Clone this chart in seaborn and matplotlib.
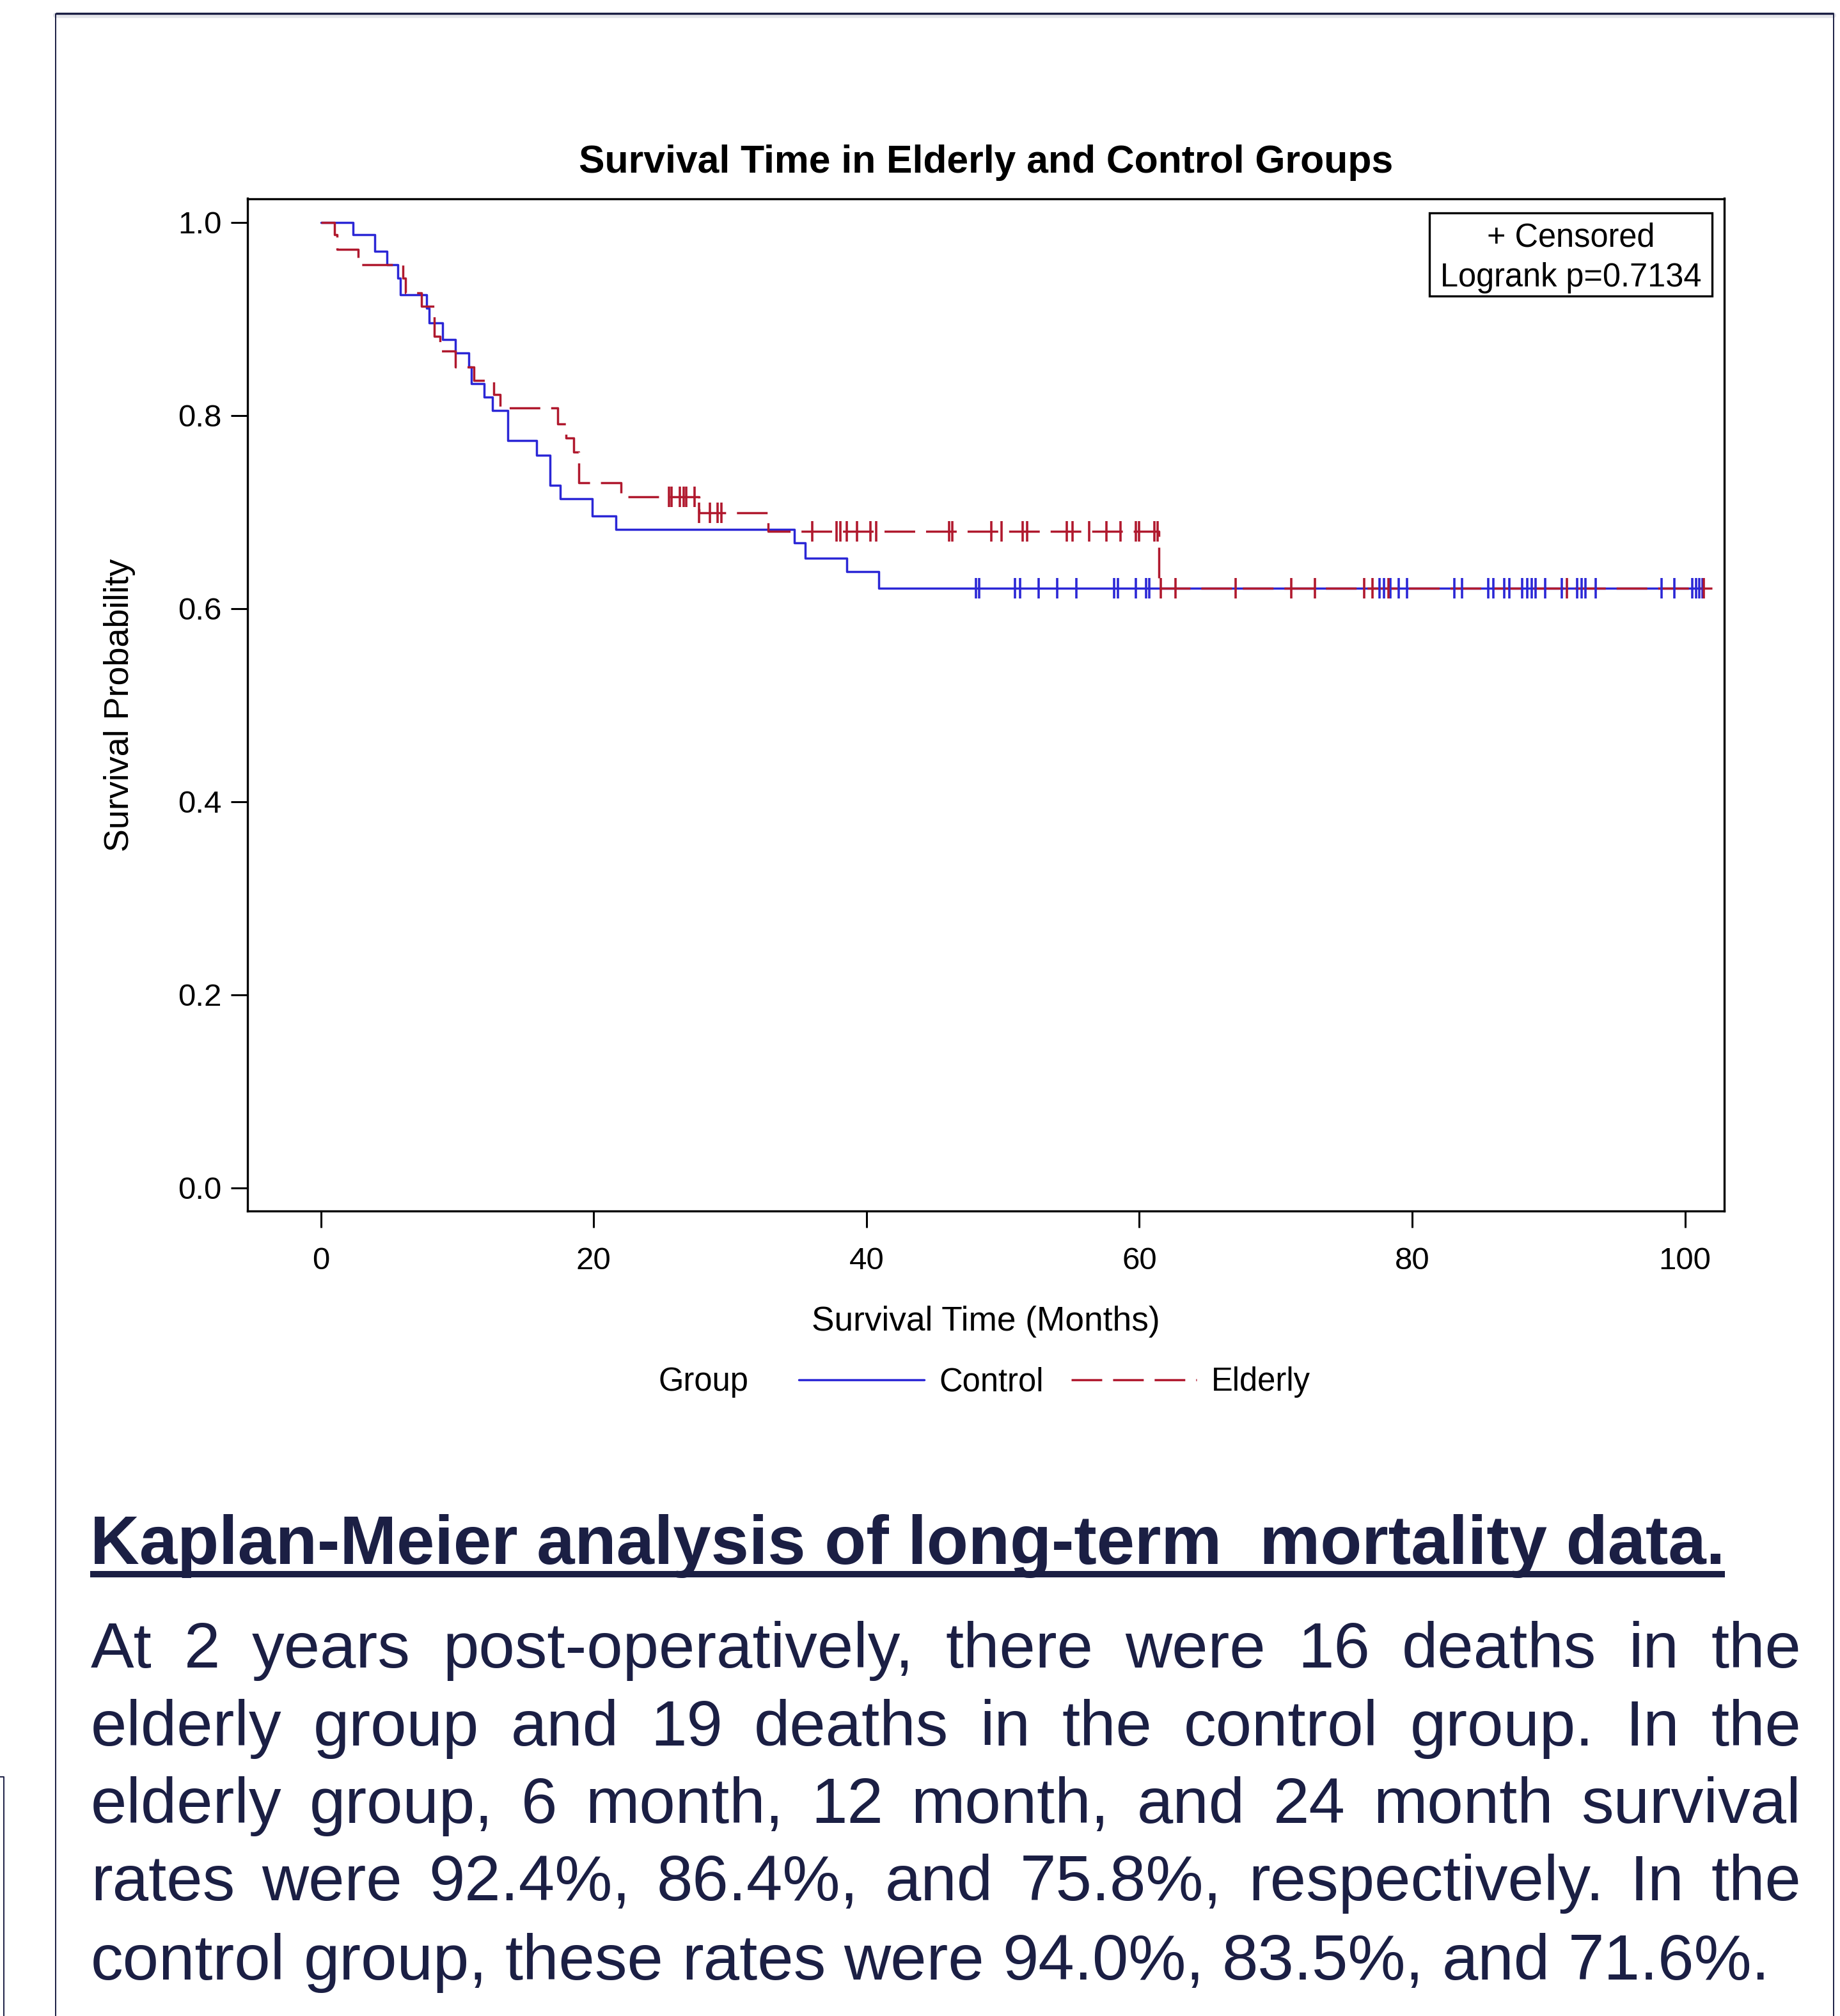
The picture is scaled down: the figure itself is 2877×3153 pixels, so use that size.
import matplotlib
matplotlib.use("Agg")
import matplotlib.pyplot as plt
from matplotlib import font_manager
from matplotlib.lines import Line2D
from matplotlib.patches import Rectangle
import numpy as np
import pandas as pd
import seaborn as sns

W, H = 2877, 3153

# ---- Kaplan-Meier steps (months, survival) ----
control_times = [0, 2.37, 3.93, 4.83, 5.65, 5.82, 7.74, 7.93, 8.9, 9.86, 10.84, 11.01,
                 11.99, 12.58, 13.71, 15.82, 16.81, 17.54, 19.88, 21.62, 34.72, 35.51,
                 38.57, 40.9]
control_surv = [1.0, 0.987, 0.970, 0.956, 0.942, 0.925, 0.911, 0.896, 0.879, 0.865, 0.850,
                0.833, 0.819, 0.805, 0.774, 0.759, 0.728, 0.714, 0.696, 0.682, 0.668,
                0.652, 0.638, 0.621]
control_end = 101.3
control_censored = [48.0, 48.25, 50.87, 51.25, 52.6, 53.98, 55.37, 58.15, 58.45, 59.72,
                    60.5, 60.75, 77.6, 77.95, 78.39, 79.0, 79.6, 83.07, 83.64, 85.57,
                    85.95, 86.73, 87.1, 88.05, 88.45, 88.75, 89.04, 89.77, 90.96, 92.1,
                    92.4, 92.68, 93.46, 98.28, 99.24, 100.55, 100.8, 101.05, 101.3]

elderly_times = [0, 1.0, 1.2, 2.74, 6.03, 6.2, 7.39, 8.31, 8.71, 9.86, 11.22, 12.66,
                 13.14, 17.37, 17.98, 18.54, 18.9, 21.98, 27.74, 32.8, 61.45]
elderly_surv = [1.0, 0.987, 0.972, 0.956, 0.942, 0.927, 0.913, 0.882, 0.867, 0.850, 0.836,
                0.822, 0.808, 0.791, 0.777, 0.762, 0.730, 0.716, 0.699, 0.680, 0.621]
elderly_end = 102.0
elderly_censored = [25.5, 25.7, 26.3, 26.6, 26.8, 27.4, 27.74, 28.5, 29.1, 29.35, 36.0,
                    37.8, 38.1, 38.55, 39.3, 40.3, 40.7, 46.05, 46.3, 49.15, 49.9, 51.45,
                    51.75, 54.7, 55.1, 56.3, 57.6, 58.6, 59.75, 60.0, 61.1, 61.35, 61.55,
                    62.64, 67.06, 71.12, 72.87, 76.5, 77.07, 78.25, 91.33, 101.37]

x_ticks = [0, 20, 40, 60, 80, 100]
y_ticks = [0.0, 0.2, 0.4, 0.6, 0.8, 1.0]
group_labels = ["Control", "Elderly"]

CHART_TITLE = "Survival Time in Elderly and Control Groups"
X_LABEL = "Survival Time (Months)"
Y_LABEL = "Survival Probability"
INSET_LINES = ["+ Censored", "Logrank p=0.7134"]

CAPTION_TITLE = "Kaplan-Meier analysis of long-term  mortality data."
CAPTION_LINES = [
    "At 2 years post-operatively, there were 16 deaths in the",
    "elderly group and 19 deaths in the control group. In the",
    "elderly group, 6 month, 12 month, and 24 month survival",
    "rates were 92.4%, 86.4%, and 75.8%, respectively. In the",
    "control group, these rates were 94.0%, 83.5%, and 71.6%.",
]

BLUE = "#2b27d6"
RED = "#b0192e"
NAVY = "#1b1f44"

sns.set_theme(style="ticks")
installed = {f.name for f in font_manager.fontManager.ttflist}
if "Liberation Sans Narrow" in installed:
    CHART_FONT, K = ["Liberation Sans Narrow", "DejaVu Sans"], 1.19
else:
    CHART_FONT, K = ["Liberation Sans", "DejaVu Sans"], 1.0
plt.rcParams["font.family"] = CHART_FONT
plt.rcParams["axes.edgecolor"] = "black"
plt.rcParams["text.color"] = "black"


def fx(px):
    return px / W


def fy(py):
    return 1 - py / H


fig = plt.figure(figsize=(W / 100, H / 100), dpi=100)
fig.patch.set_facecolor("white")

# axes box: left 387, right 2696.5, top 310.5, bottom 1894 (pixels)
ax = fig.add_axes([fx(387), fy(1894), fx(2696.5) - fx(387), fy(310.5) - fy(1894)])
ax.set_facecolor("white")


def km_frame(times, surv, end):
    return pd.DataFrame({"t": list(times) + [end], "s": list(surv) + [surv[-1]]})


def at_risk_level(times, surv, pts):
    idx = np.searchsorted(times, pts, side="right") - 1
    return np.asarray(surv)[idx]


DASH = (13.8, 4.9)
LW = 2.5

sns.lineplot(data=km_frame(control_times, control_surv, control_end), x="t", y="s",
             drawstyle="steps-post", color=BLUE, lw=LW, estimator=None, sort=False, ax=ax)
sns.lineplot(data=km_frame(elderly_times, elderly_surv, elderly_end), x="t", y="s",
             drawstyle="steps-post", color=RED, lw=LW, estimator=None, sort=False, ax=ax)
ax.lines[-1].set_linestyle((0, DASH))

ax.plot(control_censored, at_risk_level(control_times, control_surv, control_censored),
        ls="none", marker="|", ms=22.5, mew=2.6, color=BLUE)
ax.plot(elderly_censored, at_risk_level(elderly_times, elderly_surv, elderly_censored),
        ls="none", marker="|", ms=22.5, mew=2.6, color=RED)

ax.set_xlim(-5.38, 102.9)
ax.set_ylim(-0.024, 1.0247)
ax.set_xticks(x_ticks)
ax.set_xticklabels([str(v) for v in x_ticks])
ax.set_yticks(y_ticks)
ax.set_yticklabels([f"{v:.1f}" for v in y_ticks])
ax.tick_params(axis="both", direction="out", length=19, width=2.2, color="black",
               labelsize=35.5 * K, labelcolor="black")
ax.tick_params(axis="x", pad=21)
ax.tick_params(axis="y", pad=10)
for sp in ax.spines.values():
    sp.set_visible(True)
    sp.set_color("black")
    sp.set_linewidth(2.4)

ax.set_title(CHART_TITLE, fontsize=43.7 * K, fontweight="bold", pad=29, color="black")
ax.set_xlabel(X_LABEL, fontsize=38.3 * K, color="black")
ax.set_ylabel(Y_LABEL, fontsize=38.8 * K, color="black")
ax.xaxis.set_label_coords(0.5, -0.0935)
ax.yaxis.set_label_coords(-0.0758, 0.5)

# censored / logrank inset box
ax.add_patch(Rectangle((0.8002, 0.9037), 0.9914 - 0.8002, 0.9858 - 0.9037,
                       transform=ax.transAxes, fill=True, fc="white", ec="black",
                       lw=2.4, zorder=5))
ax.text(0.8958, 0.9612, INSET_LINES[0], transform=ax.transAxes, ha="center", va="center",
        fontsize=36.4 * K, zorder=6)
ax.text(0.8958, 0.9220, INSET_LINES[1], transform=ax.transAxes, ha="center", va="center",
        fontsize=36.4 * K, zorder=6)

# group legend below the axis label
fig.text(fx(1029), fy(2161), "Group", ha="left", va="center", fontsize=36.5 * K)
handles = [Line2D([], [], color=BLUE, lw=LW),
           Line2D([], [], color=RED, lw=LW, ls=(0, DASH))]
ax.legend(handles, group_labels, loc="center left", ncol=2,
          bbox_to_anchor=(fx(1249), fy(2162)), bbox_transform=fig.transFigure,
          frameon=False, fontsize=36.5 * K, handlelength=3.86 / K,
          handletextpad=0.46, columnspacing=0.86, borderpad=0, borderaxespad=0)

# ---- caption (slide text) ----
CAP_FONT = ["Liberation Sans", "DejaVu Sans"]
renderer = fig.canvas.get_renderer()

cap_title = fig.text(fx(141), fy(2446), CAPTION_TITLE, ha="left", va="baseline",
                     fontsize=76.7, fontweight="bold", color=NAVY, family=CAP_FONT)
bb = cap_title.get_window_extent(renderer)
fig.add_artist(Line2D([bb.x0 / W, bb.x1 / W], [fy(2462), fy(2462)],
                      transform=fig.transFigure, color=NAVY, lw=7.2,
                      solid_capstyle="butt"))

TEXT_LEFT, TEXT_RIGHT = 142, 2816
baselines = [2608, 2730, 2851, 2972, 3096]
for i, (line, base) in enumerate(zip(CAPTION_LINES, baselines)):
    words = line.split()
    texts = [fig.text(0, fy(base), w, ha="left", va="baseline", fontsize=73,
                      color=NAVY, family=CAP_FONT) for w in words]
    widths = [t.get_window_extent(renderer).width for t in texts]
    if i < len(CAPTION_LINES) - 1:
        gap = (TEXT_RIGHT - TEXT_LEFT - sum(widths)) / (len(words) - 1)
    else:
        gap = 0.278 * 73 * 100 / 72
    x = TEXT_LEFT
    for t, w in zip(texts, widths):
        t.set_x(fx(x))
        x += w + gap

# ---- slide frame ----
frame_kw = dict(transform=fig.transFigure, color=NAVY, solid_capstyle="butt")
fig.add_artist(Line2D([fx(87), fx(2867)], [fy(24), fy(24)], color="#e4e5ea", lw=6,
                      transform=fig.transFigure))
fig.add_artist(Line2D([fx(87), fx(2867)], [fy(21), fy(21)], lw=2.4, **frame_kw))
fig.add_artist(Line2D([fx(87), fx(87)], [fy(21), fy(H)], lw=1.4, **frame_kw))
fig.add_artist(Line2D([fx(2867), fx(2867)], [fy(21), fy(H)], lw=1.4, **frame_kw))
fig.add_artist(Line2D([fx(0), fx(6), fx(6)], [fy(2779), fy(2779), fy(H)], lw=1.4,
                      **frame_kw))

fig.savefig("out.png", dpi=100, facecolor="white")
